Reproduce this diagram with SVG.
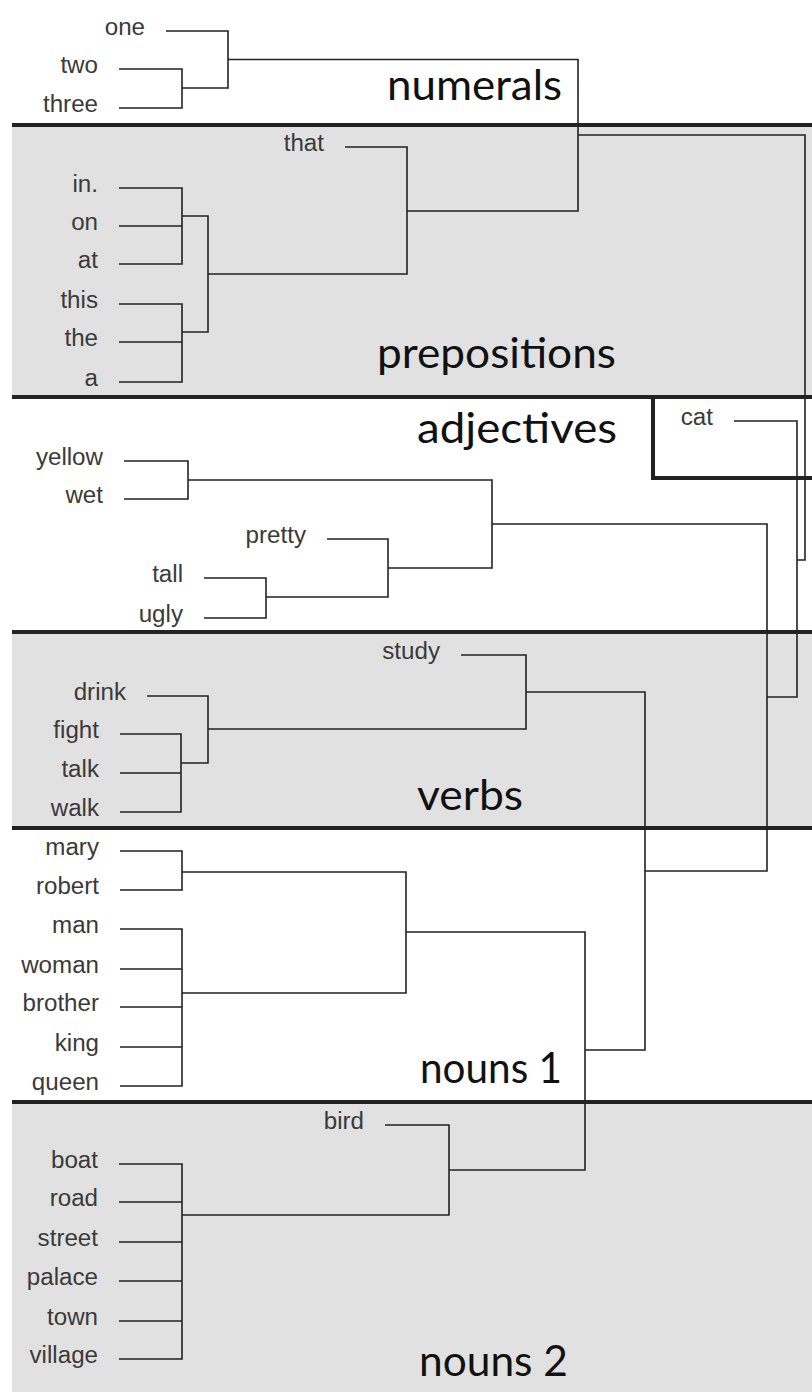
<svg xmlns="http://www.w3.org/2000/svg" width="812" height="1392" viewBox="0 0 812 1392">
<style>
.band{fill:#e1e1e1}
.sep{stroke:#222;stroke-width:4;fill:none}
.ln{stroke:#222;stroke-width:1.6;fill:none}
.lbl{font-family:"Liberation Sans",Arial,sans-serif;font-size:23px;fill:#3a3a3a;text-anchor:end}
.ttl{font-family:Lato,"Open Sans",sans-serif;font-size:42px;fill:#111}
</style>
<rect width="812" height="1392" fill="#fff"/>
<g id="bands">
<rect class="band" x="12" y="125" width="800" height="272"/>
<rect class="band" x="12" y="632" width="800" height="196"/>
<rect class="band" x="12" y="1102" width="800" height="290"/>
<path class="sep" d="M12 125H812M12 397H812M12 632H812M12 828H812M12 1102H812"/>
<path class="sep" d="M653 397V478H812"/>
</g>
<g id="titles">
<text id="t-numerals" class="ttl" x="387" y="100" textLength="175" lengthAdjust="spacingAndGlyphs">numerals</text>
<text id="t-prepositions" class="ttl" x="377" y="368" textLength="239" lengthAdjust="spacingAndGlyphs">prepositions</text>
<text id="t-adjectives" class="ttl" x="417" y="443" textLength="200" lengthAdjust="spacingAndGlyphs">adjectives</text>
<text id="t-verbs" class="ttl" x="417" y="810" textLength="106" lengthAdjust="spacingAndGlyphs">verbs</text>
<text id="t-nouns1" class="ttl" x="420" y="1083" textLength="142" lengthAdjust="spacingAndGlyphs">nouns 1</text>
<text id="t-nouns2" class="ttl" x="419" y="1376" textLength="149" lengthAdjust="spacingAndGlyphs">nouns 2</text>
</g>
<g id="connectors">
<path class="ln" d="M166 31H228V88H182M119 69H182V108H119M228 59.5H578V211H407"/>
<path class="ln" d="M345 147H407V274H208M119 188H182V264H119M119 226H182M119 304H182V382H119M119 342H182M182 216H208V332H182"/>
<path class="ln" d="M578 135H805V560H797"/>
<path class="ln" d="M734 421H797V697H767"/>
<path class="ln" d="M124 461H188V499H124M188 480H492V568H388M327 539H388V597H266M204 578H266V618H204M492 524H767V871H645"/>
<path class="ln" d="M461 655H526V729H208M147 696H208V763H181M120 734H181V812H120M120 773H181M526 692H645V1050H585"/>
<path class="ln" d="M120 851H182V890H120M182 872H406V993H182M120 929H182V1086H120M120 969H182M120 1007H182M120 1047H182M406 932H585V1170H449"/>
<path class="ln" d="M385 1125H449V1215H182M119 1164H182V1359H119M119 1202H182M119 1242H182M119 1281H182M119 1321H182"/>
</g>
<g id="n-one"><text class="lbl" transform="translate(145 35) scale(1.05 1)">one</text></g>
<g id="n-two"><text class="lbl" transform="translate(98 73) scale(1.05 1)">two</text></g>
<g id="n-three"><text class="lbl" transform="translate(98 112) scale(1.05 1)">three</text></g>
<g id="n-that"><text class="lbl" transform="translate(324 151) scale(1.05 1)">that</text></g>
<g id="n-in"><text class="lbl" transform="translate(98 192) scale(1.05 1)">in.</text></g>
<g id="n-on"><text class="lbl" transform="translate(98 230) scale(1.05 1)">on</text></g>
<g id="n-at"><text class="lbl" transform="translate(98 268) scale(1.05 1)">at</text></g>
<g id="n-this"><text class="lbl" transform="translate(98 308) scale(1.05 1)">this</text></g>
<g id="n-the"><text class="lbl" transform="translate(98 346) scale(1.05 1)">the</text></g>
<g id="n-a"><text class="lbl" transform="translate(98 386) scale(1.05 1)">a</text></g>
<g id="n-cat"><text class="lbl" transform="translate(713 425) scale(1.05 1)">cat</text></g>
<g id="n-yellow"><text class="lbl" transform="translate(103 465) scale(1.05 1)">yellow</text></g>
<g id="n-wet"><text class="lbl" transform="translate(103 503) scale(1.05 1)">wet</text></g>
<g id="n-pretty"><text class="lbl" transform="translate(306 543) scale(1.05 1)">pretty</text></g>
<g id="n-tall"><text class="lbl" transform="translate(183 582) scale(1.05 1)">tall</text></g>
<g id="n-ugly"><text class="lbl" transform="translate(183 622) scale(1.05 1)">ugly</text></g>
<g id="n-study"><text class="lbl" transform="translate(440 659) scale(1.05 1)">study</text></g>
<g id="n-drink"><text class="lbl" transform="translate(126 700) scale(1.05 1)">drink</text></g>
<g id="n-fight"><text class="lbl" transform="translate(99 738) scale(1.05 1)">fight</text></g>
<g id="n-talk"><text class="lbl" transform="translate(99 777) scale(1.05 1)">talk</text></g>
<g id="n-walk"><text class="lbl" transform="translate(99 816) scale(1.05 1)">walk</text></g>
<g id="n-mary"><text class="lbl" transform="translate(99 855) scale(1.05 1)">mary</text></g>
<g id="n-robert"><text class="lbl" transform="translate(99 894) scale(1.05 1)">robert</text></g>
<g id="n-man"><text class="lbl" transform="translate(99 933) scale(1.05 1)">man</text></g>
<g id="n-woman"><text class="lbl" transform="translate(99 973) scale(1.05 1)">woman</text></g>
<g id="n-brother"><text class="lbl" transform="translate(99 1011) scale(1.05 1)">brother</text></g>
<g id="n-king"><text class="lbl" transform="translate(99 1051) scale(1.05 1)">king</text></g>
<g id="n-queen"><text class="lbl" transform="translate(99 1090) scale(1.05 1)">queen</text></g>
<g id="n-bird"><text class="lbl" transform="translate(364 1129) scale(1.05 1)">bird</text></g>
<g id="n-boat"><text class="lbl" transform="translate(98 1168) scale(1.05 1)">boat</text></g>
<g id="n-road"><text class="lbl" transform="translate(98 1206) scale(1.05 1)">road</text></g>
<g id="n-street"><text class="lbl" transform="translate(98 1246) scale(1.05 1)">street</text></g>
<g id="n-palace"><text class="lbl" transform="translate(98 1285) scale(1.05 1)">palace</text></g>
<g id="n-town"><text class="lbl" transform="translate(98 1325) scale(1.05 1)">town</text></g>
<g id="n-village"><text class="lbl" transform="translate(98 1363) scale(1.05 1)">village</text></g>
</svg>
